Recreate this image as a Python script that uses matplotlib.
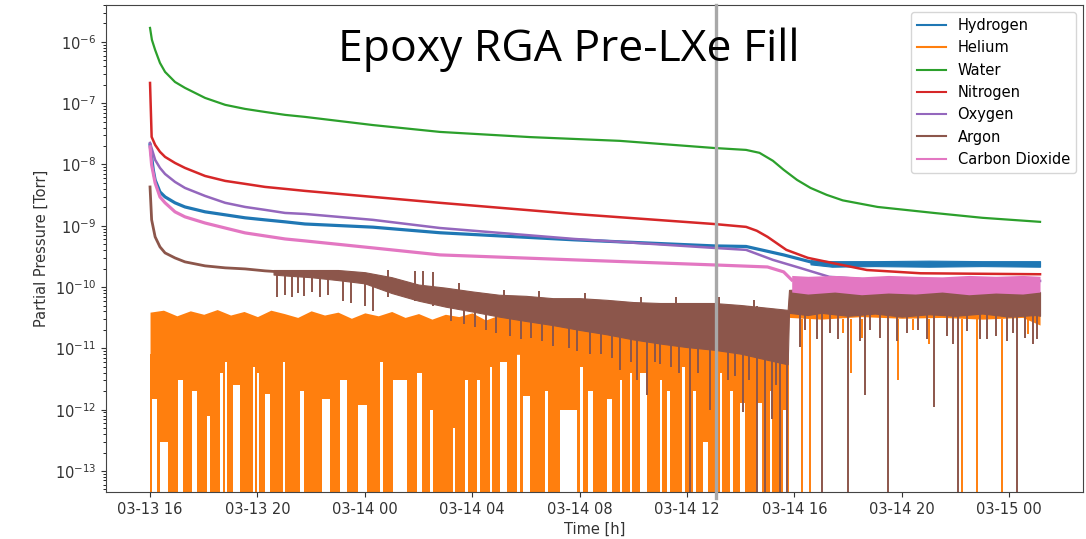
import numpy as np
import matplotlib.pyplot as plt
import matplotlib.dates as mdates
from matplotlib.lines import Line2D

# RGA partial pressures, time in hours after 03-13 16:00, pressure in Torr
START = np.datetime64('2024-03-13T16:00')
FLOOR = 1e-15  # readings that drop to zero on the log axis

h2_t = [0, 0.12, 0.19, 0.37, 0.56, 0.93, 1.3, 2.05, 2.8, 3.54, 4.28, 5.03, 5.77, 8.3, 10.8, 15.8, 21.0,
        22.2, 23.6, 24.6]
h2_p = [2.1e-8, 8.2e-9, 5.6e-9, 3.57e-9, 2.96e-9, 2.37e-9, 2.03e-9, 1.69e-9, 1.51e-9, 1.35e-9, 1.25e-9,
        1.16e-9, 1.07e-9, 9.5e-10, 7.7e-10, 5.9e-10, 4.7e-10, 4.6e-10, 3.35e-10, 2.58e-10]
# settled hydrogen reading is a noisy band
h2_band_t = [24.6, 25.4, 27, 29, 31, 33.15]
h2_band_hi = [2.75e-10, 2.65e-10, 2.65e-10, 2.7e-10, 2.65e-10, 2.65e-10]
h2_band_lo = [2.35e-10, 2.15e-10, 2.2e-10, 2.15e-10, 2.2e-10, 2.15e-10]

water_t = [0, 0.07, 0.19, 0.37, 0.56, 0.93, 1.3, 2.05, 2.8, 3.54, 4.28, 5.03, 5.77, 8.3, 10.8, 14.15, 17.5,
           21.0, 22.2, 22.7, 23.2, 23.6, 24.1, 24.6, 25.2, 25.8, 27.1, 29.2, 31.0, 33.15]
water_p = [1.69e-6, 1.08e-6, 7.4e-7, 4.54e-7, 3.24e-7, 2.22e-7, 1.78e-7, 1.22e-7, 9.4e-8, 8.07e-8, 7.2e-8,
           6.45e-8, 5.98e-8, 4.4e-8, 3.4e-8, 2.8e-8, 2.43e-8, 1.86e-8, 1.73e-8, 1.55e-8, 1.15e-8, 8.2e-9,
           5.6e-9, 4.15e-9, 3.2e-9, 2.6e-9, 2.03e-9, 1.62e-9, 1.35e-9, 1.16e-9]

n2_t = [0, 0.06, 0.19, 0.37, 0.56, 0.93, 1.3, 2.05, 2.8, 3.54, 4.28, 5.03, 5.77, 8.3, 10.8, 15.8, 21.0,
        22.2, 22.6, 23.0, 23.7, 24.5, 25.4, 26.7, 28.7, 33.15]
n2_p = [2.14e-7, 2.82e-8, 2.09e-8, 1.61e-8, 1.33e-8, 1.06e-8, 8.8e-9, 6.5e-9, 5.4e-9, 4.83e-9, 4.31e-9,
        4.0e-9, 3.71e-9, 2.96e-9, 2.37e-9, 1.56e-9, 1.07e-9, 9.6e-10, 8.3e-10, 6.6e-10, 4.05e-10, 3.0e-10,
        2.48e-10, 1.9e-10, 1.68e-10, 1.62e-10]

o2_t = [0, 0.19, 0.37, 0.56, 0.93, 1.3, 2.05, 2.8, 3.54, 4.28, 5.03, 5.77, 8.3, 10.8, 15.8, 21.0, 22.2,
        23.2, 24.2, 25.3, 27.0, 33.15]
o2_p = [2.25e-8, 1.19e-8, 8.8e-9, 7.0e-9, 5.2e-9, 4.15e-9, 3.07e-9, 2.37e-9, 2.03e-9, 1.82e-9, 1.62e-9,
        1.56e-9, 1.25e-9, 9.2e-10, 6.1e-10, 4.36e-10, 4.05e-10, 2.78e-10, 2.06e-10, 1.47e-10, 1.31e-10,
        1.26e-10]

co2_t = [0, 0.06, 0.19, 0.37, 0.56, 0.93, 1.3, 2.05, 2.8, 3.54, 4.28, 5.03, 5.77, 8.3, 10.8, 15.8, 21.0,
         23.0, 23.6, 23.9]
co2_p = [1.94e-8, 9.8e-9, 5.0e-9, 2.96e-9, 2.37e-9, 1.69e-9, 1.4e-9, 1.11e-9, 9.2e-10, 7.66e-10, 6.84e-10,
         6.1e-10, 5.67e-10, 4.36e-10, 3.35e-10, 2.78e-10, 2.3e-10, 2.13e-10, 1.77e-10, 1.31e-10]
# after the fill the CO2 reading is a noisy band
co2_band_t = [23.9, 24.5, 25.5, 26.5, 27.5, 28.5, 29.5, 30.5, 31.5, 32.5, 33.15]
co2_band_hi = [1.55e-10, 1.5e-10, 1.55e-10, 1.47e-10, 1.55e-10, 1.5e-10, 1.47e-10, 1.55e-10, 1.5e-10,
               1.55e-10, 1.5e-10]
co2_band_lo = [8.3e-11, 7.7e-11, 8.3e-11, 7.5e-11, 8.0e-11, 7.7e-11, 8.3e-11, 7.5e-11, 8.0e-11, 7.7e-11, 8.3e-11]

# argon: clean decay first, then a noisy band with dropouts
ar_t = [0, 0.06, 0.19, 0.37, 0.56, 0.93, 1.3, 2.05, 2.8, 3.54, 4.28, 4.6]
ar_p = [4.3e-9, 1.25e-9, 6.6e-10, 4.53e-10, 3.61e-10, 2.99e-10, 2.58e-10, 2.22e-10, 2.06e-10, 1.98e-10,
        1.84e-10, 1.8e-10]
ar_band_t = [4.6, 5, 6, 7, 8, 9, 10, 11, 12, 13, 14, 15, 16, 17, 18, 19, 20, 21, 22, 23, 23.75,
             23.8, 24.5, 25, 26, 27, 28, 29, 30, 31, 32, 33, 33.15]
ar_band_hi = [1.9e-10, 1.9e-10, 1.9e-10, 1.9e-10, 1.75e-10, 1.45e-10, 1.1e-10, 9.8e-11, 8.5e-11, 7.5e-11,
              7.2e-11, 6.6e-11, 6.6e-11, 6.2e-11, 5.7e-11, 5.5e-11, 5.5e-11, 5.5e-11, 5.1e-11, 4.6e-11,
              4.25e-11,
              9.0e-11, 9.3e-11, 9.0e-11, 8.7e-11, 9.0e-11, 8.3e-11, 8.7e-11, 8.3e-11, 8.7e-11, 8.3e-11,
              8.7e-11, 8.3e-11]
ar_band_lo = [1.6e-10, 1.55e-10, 1.45e-10, 1.3e-10, 1.15e-10, 8.0e-11, 6.0e-11, 4.8e-11, 4.0e-11, 3.3e-11,
              2.8e-11, 2.4e-11, 2.0e-11, 1.7e-11, 1.4e-11, 1.2e-11, 1.05e-11, 9.5e-12, 8.2e-12, 6.5e-12,
              5.5e-12,
              3.8e-11, 3.5e-11, 3.8e-11, 3.4e-11, 3.7e-11, 3.3e-11, 3.6e-11, 3.4e-11, 3.7e-11, 3.3e-11,
              3.5e-11, 3.4e-11]
# (hour, low, high) of single argon excursions
ar_spikes = [(4.73, 7e-11, 1.9e-10), (5.03, 7.5e-11, 1.9e-10), (5.29, 6.8e-11, 1.9e-10),
             (5.51, 8e-11, 1.9e-10), (5.74, 7.2e-11, 1.9e-10), (6.03, 8.3e-11, 1.9e-10),
             (6.33, 7e-11, 1.9e-10), (6.63, 7.5e-11, 1.9e-10), (7.2, 6e-11, 1.8e-10), (7.5, 5.5e-11, 1.8e-10),
             (8.0, 5e-11, 1.7e-10), (8.3, 4e-11, 1.6e-10),
             (8.86, 7e-11, 1.9e-10), (9.87, 6e-11, 1.8e-10), (10.17, 6e-11, 1.8e-10), (10.54, 5e-11, 1.75e-10),
             (11.5, 6e-11, 1.15e-10), (13.2, 5e-11, 9e-11), (14.5, 5e-11, 8.5e-11), (16.2, 4e-11, 8e-11),
             (18.3, 4e-11, 7e-11), (19.6, 4e-11, 6.8e-11), (21.2, 4e-11, 6.8e-11), (22.5, 3.5e-11, 6.2e-11),
             (11.2, 2.8e-11, 5e-11), (11.7, 2.5e-11, 5e-11), (12.1, 2.2e-11, 5e-11), (12.5, 2e-11, 5e-11),
             (12.9, 1.8e-11, 5e-11), (13.4, 1.6e-11, 5e-11), (13.8, 1.4e-11, 5e-11), (14.2, 1.5e-11, 5e-11),
             (14.6, 1.3e-11, 5e-11), (15.0, 1.1e-11, 5e-11), (15.6, 1e-11, 5e-11), (15.9, 9e-12, 5e-11),
             (16.4, 8e-12, 5e-11), (16.8, 8e-12, 5e-11), (17.2, 7e-12, 5e-11), (17.5, 4.5e-12, 5e-11),
             (17.9, 6e-12, 5e-11), (18.14, 3.1e-12, 5e-11), (18.5, 1.75e-12, 5e-11), (18.8, 6e-12, 5e-11),
             (19.0, 5.5e-12, 5e-11), (19.4, 5e-12, 5e-11), (19.7, 4e-12, 5e-11), (20.1, FLOOR, 5e-11),
             (20.4, 4e-12, 5e-11), (20.86, 1e-12, 5e-11), (21.1, 4e-12, 5e-11), (21.53, 3.1e-12, 5e-11),
             (21.8, 3.5e-12, 5e-11), (22.09, 9e-13, 5e-11), (22.3, 3e-12, 5e-11), (22.6, FLOOR, 5e-11),
             (22.9, FLOOR, 4e-11), (23.17, 7e-13, 4e-11), (23.3, 2.5e-12, 4e-11), (23.46, FLOOR, 4e-11),
             (23.72, FLOOR, 4e-11),
             (24.2, 1.05e-11, 6e-11), (24.39, 2e-11, 6e-11), (24.84, 1.4e-11, 6e-11), (25.03, FLOOR, 6e-11),
             (25.33, 1.8e-11, 6e-11), (25.62, 1.4e-11, 6e-11), (26.0, FLOOR, 6e-11), (26.44, 1.3e-11, 6e-11),
             (26.63, 1.75e-12, 6e-11), (26.82, 2e-11, 6e-11), (27.19, 1.5e-11, 6e-11), (27.49, FLOOR, 6e-11),
             (27.82, 1.3e-11, 6e-11), (28.2, 1.8e-11, 6e-11), (28.6, 2e-11, 6e-11), (28.94, 1.4e-11, 6e-11),
             (29.2, 1.1e-12, 6e-11), (29.68, 1.6e-11, 6e-11), (29.91, 1.2e-11, 6e-11), (30.09, FLOOR, 6e-11),
             (30.43, 1.9e-11, 6e-11), (30.9, 1.4e-11, 6e-11), (31.17, 1.4e-11, 6e-11), (31.5, 1.6e-11, 6e-11),
             (31.92, 1.3e-11, 6e-11), (32.14, 1.8e-11, 6e-11), (32.29, FLOOR, 6e-11), (32.6, 1.5e-11, 6e-11),
             (32.9, 1.2e-11, 6e-11), (33.05, 1.4e-11, 6e-11)]

# helium: upper edge of the noise band (every half hour up to the fill), solid band floor
he_top_t = np.arange(0, 24, 0.5)
he_top = [3.9e-11, 4.2e-11, 3.4e-11, 4.1e-11, 3.6e-11, 4.3e-11, 3.5e-11, 4.0e-11, 3.3e-11, 4.2e-11,
          3.7e-11, 3.2e-11, 4.1e-11, 3.5e-11, 3.9e-11, 3.1e-11, 3.8e-11, 3.4e-11, 4.0e-11, 3.2e-11,
          3.7e-11, 3.0e-11, 3.6e-11, 3.3e-11, 3.8e-11, 2.9e-11, 3.5e-11, 3.1e-11, 3.4e-11, 2.8e-11,
          3.3e-11, 3.0e-11, 3.2e-11, 2.8e-11, 3.1e-11, 2.9e-11, 3.2e-11, 2.7e-11, 3.0e-11, 2.8e-11,
          3.1e-11, 2.7e-11, 2.9e-11, 2.6e-11, 2.9e-11, 2.7e-11, 2.8e-11, 2.6e-11]
he_band_floor = 8e-12
he_end_pre = 23.8
# stretches where the helium trace does not drop to zero: (start, end, lowest reading)
he_gaps = [(0.07, 0.26, 1.5e-12), (0.37, 0.67, 3e-13), (1.04, 1.23, 3e-12), (1.56, 1.75, 2e-12),
           (2.12, 2.23, 8e-13), (2.61, 2.72, 4e-12), (2.79, 2.87, 6e-12), (3.09, 3.35, 2.5e-12),
           (3.84, 3.91, 5e-12), (3.99, 4.06, 4e-12), (4.28, 4.47, 1.8e-12), (4.95, 5.03, 6e-12),
           (5.59, 5.74, 2e-12), (6.41, 6.7, 1.5e-12), (7.08, 7.34, 3e-12), (7.75, 8.08, 1.2e-12),
           (8.57, 8.68, 6e-12), (9.05, 9.57, 3e-12), (9.94, 10.13, 4e-12), (10.43, 10.54, 1e-12),
           (11.28, 11.36, 5e-13), (11.73, 11.84, 3e-12), (12.18, 12.29, 3e-12), (12.66, 12.74, 5e-12),
           (13.04, 13.3, 6e-12), (13.67, 13.78, 8e-12), (13.89, 14.15, 1.7e-12), (14.71, 14.82, 2e-12),
           (15.27, 15.9, 1e-12), (16.01, 16.13, 5e-12), (16.31, 16.5, 2e-12), (17.02, 17.21, 1.5e-12),
           (17.5, 17.58, 3e-12), (17.88, 17.95, 4e-12), (18.25, 18.51, 4e-12), (18.99, 19.07, 3e-12),
           (19.25, 19.37, 2e-12), (19.81, 19.93, 5e-12), (20.22, 20.33, 2e-12), (20.6, 20.78, 3e-13),
           (21.23, 21.3, 4e-12), (21.6, 21.71, 2e-12), (21.97, 22.16, 1.3e-12), (22.61, 22.79, 1.3e-12),
           (23.09, 23.17, 2e-12), (23.58, 23.76, 1e-12)]
he_post_t = [23.8, 25, 26.5, 28, 29.5, 31, 32.5, 33.15]
he_post_hi = [5e-11, 5e-11, 5e-11, 5e-11, 5e-11, 5e-11, 5e-11, 5e-11]
he_post_lo = [3.2e-11, 3.0e-11, 3.3e-11, 3.1e-11, 3.2e-11, 3.0e-11, 3.2e-11, 2.4e-11]
he_drops = [(24.28, FLOOR, 3e-11), (24.58, FLOOR, 3e-11), (26.1, 4e-12, 3e-11), (26.5, 1.5e-11, 3e-11),
            (27.85, 3e-12, 3e-11), (29.0, 1.2e-11, 3e-11), (30.25, FLOOR, 3e-11), (30.82, FLOOR, 3e-11),
            (31.75, FLOOR, 3e-11), (25.8, 1.8e-11, 3e-11), (28.4, 2e-11, 3e-11), (32.7, 1.7e-11, 3e-11)]

labels = ['Hydrogen', 'Helium', 'Water', 'Nitrogen', 'Oxygen', 'Argon', 'Carbon Dioxide']
colors = ['#1f77b4', '#ff7f0e', '#2ca02c', '#d62728', '#9467bd', '#8c564b', '#e377c2']
decades = [1e-13, 1e-12, 1e-11, 1e-10, 1e-9, 1e-8, 1e-7, 1e-6]


def tt(hours):
    secs = np.round(np.asarray(hours, dtype=float) * 3600).astype(np.int64)
    return START + secs.astype('timedelta64[s]')


fig = plt.figure(figsize=(10.86, 5.39), dpi=100)
ax = fig.add_axes([106 / 1086, 1 - 492 / 539, 977 / 1086, 487 / 539])
ax.set_yscale('log')

# hydrogen
ax.plot(tt(h2_t), h2_p, color=colors[0], lw=2.3, zorder=2.0)
ax.fill_between(tt(h2_band_t), h2_band_lo, h2_band_hi, color=colors[0], lw=0.8, edgecolor=colors[0],
                zorder=2.0)

# helium
ax.fill_between(tt(he_top_t), he_band_floor, he_top, color=colors[1], lw=0, zorder=2.1)
xs, fl = [0.0], [FLOOR]
for gs, ge, gf in he_gaps:
    xs += [gs, ge]
    fl += [gf, FLOOR]
xs.append(he_end_pre)
fl.append(FLOOR)
ax.fill_between(tt(xs), fl, he_band_floor, step='post', color=colors[1], lw=0, zorder=2.1)
ax.fill_between(tt(he_post_t), he_post_lo, he_post_hi, color=colors[1], lw=0, zorder=2.1)
dh, dl, du = zip(*he_drops)
ax.vlines(tt(dh), dl, du, color=colors[1], lw=1.4, zorder=2.1)

ax.plot(tt(water_t), water_p, color=colors[2], lw=1.6, zorder=2.2)
ax.plot(tt(n2_t), n2_p, color=colors[3], lw=1.8, zorder=2.3)
ax.plot(tt(o2_t), o2_p, color=colors[4], lw=1.8, zorder=2.4)

# argon
ax.plot(tt(ar_t), ar_p, color=colors[5], lw=2.0, zorder=2.5)
ax.fill_between(tt(ar_band_t), ar_band_lo, ar_band_hi, color=colors[5], lw=0.8, edgecolor=colors[5],
                zorder=2.5)
sh, sl, su = zip(*ar_spikes)
ax.vlines(tt(sh), sl, su, color=colors[5], lw=1.4, zorder=2.5)

# carbon dioxide
ax.plot(tt(co2_t), co2_p, color=colors[6], lw=2.3, zorder=2.6)
ax.fill_between(tt(co2_band_t), co2_band_lo, co2_band_hi, color=colors[6], lw=0, zorder=2.6)

ax.set_xlim(tt(-1.64), tt(34.75))
ax.set_ylim(4.54e-14, 4.0e-6)
ax.set_yticks(decades)
ax.xaxis.set_major_locator(mdates.HourLocator(byhour=range(0, 24, 4)))
ax.xaxis.set_major_formatter(mdates.DateFormatter('%m-%d %H'))
ax.tick_params(labelsize=10.5, colors='#333333')
for sp in ax.spines.values():
    sp.set_color('#444444')

ax.set_xlabel('Time [h]', fontsize=10.5, color='#333333')
ax.set_ylabel('Partial Pressure [Torr]', fontsize=10.5, color='#333333')

handles = [Line2D([], [], color=c, lw=1.5) for c in colors]
ax.legend(handles, labels, loc='upper right', fontsize=10.5)

fig.text(338 / 1086, 1 - 61 / 539, 'Epoxy RGA Pre-LXe Fill', ha='left', va='baseline',
         fontsize=32, family='Open Sans', color='black')
fig.add_artist(Line2D([716 / 1086, 716 / 1086], [1 - 5 / 539, 1 - 498 / 539],
                      transform=fig.transFigure, color='#a8a8a8', lw=2.4))

fig.savefig('out.png', dpi=100)
